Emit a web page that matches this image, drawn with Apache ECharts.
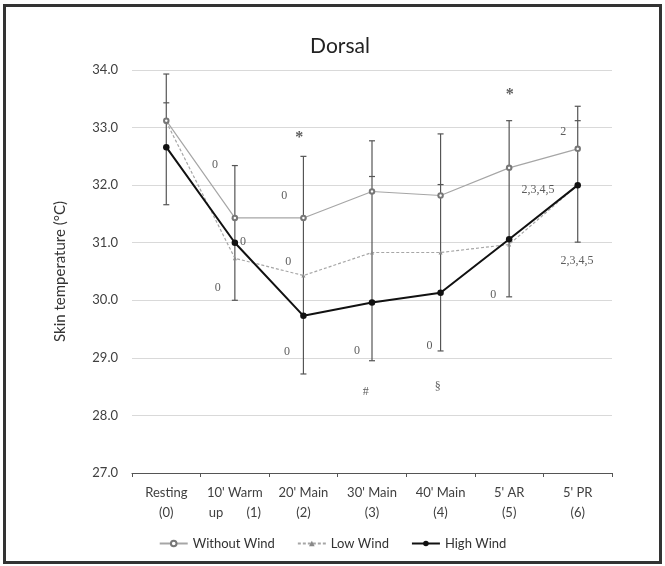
<!DOCTYPE html>
<html><head><meta charset="utf-8">
<script src="https://cdn.jsdelivr.net/npm/echarts@6/dist/echarts.min.js"></script>
<style>html,body{margin:0;padding:0;background:#fff}#c{width:665px;height:566px}</style>
</head><body><div id="c"></div>
<script>
// ---- data ----
const categories = ["Resting\n(0)", "10' Warm\nup       (1)", "20' Main\n(2)", "30' Main\n(3)", "40' Main\n(4)", "5' AR\n(5)", "5' PR\n(6)"];
const withoutWind   = [33.12, 31.43, 31.43, 31.89, 31.82, 32.30, 32.63];
const withoutWindSD = [0.81, 0.91, 1.07, 0.88, 1.07, 0.82, 0.74];
const lowWind       = [33.10, 30.73, 30.43, 30.83, 30.83, 30.97, 32.00];
const lowWindSD     = [0.33, 0.69, 1.00, 1.32, 1.18, 1.33, 1.12];
const highWind      = [32.66, 31.00, 29.73, 29.96, 30.13, 31.06, 32.00];
const highWindSD    = [1.00, 1.00, 1.01, 1.01, 1.01, 1.00, 0.99];
const yMin = 27, yMax = 34, yStep = 1;
// annotation marks: [category position, value, text]
const annotations = [
  [0.71, 32.36, "0"], [1.12, 31.02, "0"], [0.75, 30.21, "0"],
  [1.94, 32.82, "*"], [1.72, 31.82, "0"], [1.78, 30.66, "0"], [1.76, 29.10, "0"],
  [2.78, 29.12, "0"], [2.91, 28.41, "#"],
  [3.84, 29.20, "0"], [3.96, 28.49, "§"],
  [4.77, 30.09, "0"], [5.01, 33.57, "*"],
  [5.79, 32.93, "2"], [5.42, 31.92, "2,3,4,5"], [5.99, 30.68, "2,3,4,5"]
];

// ---- build ----
const errData = categories.map((c, i) => [
  i,
  withoutWind[i] + withoutWindSD[i],
  lowWind[i] + lowWindSD[i],
  highWind[i] - highWindSD[i]
]);

const chart = echarts.init(document.getElementById('c'));
const font = 'Lato, "Open Sans", sans-serif';
chart.setOption({
  animation: false,
  backgroundColor: '#fff',
  title: {
    text: 'Dorsal', left: 335, top: 31, textAlign: 'center',
    textStyle: { fontFamily: font, fontSize: 21, fontWeight: 'normal', color: '#222' }
  },
  legend: {
    bottom: 11, left: 'center',
    itemWidth: 28, itemHeight: 7, itemGap: 22,
    textStyle: { fontFamily: font, fontSize: 13, color: '#333' },
    data: ['Without Wind', 'Low Wind', 'High Wind']
  },
  grid: { left: 132, right: 53, top: 70, bottom: 93 },
  xAxis: [{
    type: 'category', data: categories, boundaryGap: true,
    axisLine: { lineStyle: { color: '#555', width: 1 } },
    axisTick: { show: true, length: 4, lineStyle: { color: '#555' } },
    axisLabel: { fontFamily: font, fontSize: 13, color: '#404040', lineHeight: 20, margin: 10, interval: 0 },
    splitLine: { show: false }
  }, {
    type: 'value', min: -0.5, max: 6.5, show: false
  }],
  yAxis: {
    type: 'value', min: yMin, max: yMax, interval: yStep,
    name: 'Skin temperature (°C)', nameLocation: 'middle', nameGap: 64,
    nameTextStyle: { fontFamily: font, fontSize: 15, color: '#333' },
    axisLine: { show: false }, axisTick: { show: false },
    axisLabel: { fontFamily: font, fontSize: 13, color: '#404040', margin: 14, formatter: v => v.toFixed(1) },
    splitLine: { lineStyle: { color: '#d9d9d9', width: 1 } }
  },
  graphic: [{
    type: 'rect', shape: { x: 4.5, y: 5.5, width: 656, height: 557 },
    style: { fill: 'none', stroke: '#333', lineWidth: 3 }, silent: true
  }],
  series: [
    {
      type: 'custom', name: 'err', z: 1,
      data: errData,
      encode: { x: 0, y: [1, 2, 3] },
      renderItem: function (params, api) {
        const i = api.value(0);
        const tops = [api.value(1), api.value(2)];
        const bottom = api.value(3);
        const topV = Math.max(tops[0], tops[1]);
        const p1 = api.coord([i, topV]);
        const p2 = api.coord([i, bottom]);
        const st = { stroke: '#555', lineWidth: 1.2 };
        const children = [{ type: 'line', shape: { x1: p1[0], y1: p1[1], x2: p2[0], y2: p2[1] }, style: st }];
        [tops[0], tops[1], bottom].forEach(v => {
          const p = api.coord([i, v]);
          children.push({ type: 'line', shape: { x1: p[0] - 3, y1: p[1], x2: p[0] + 3, y2: p[1] }, style: st });
        });
        return { type: 'group', children: children };
      }
    },
    {
      type: 'line', name: 'Without Wind', data: withoutWind, z: 3,
      symbol: 'emptyCircle', symbolSize: 4.5,
      lineStyle: { color: '#a6a6a6', width: 1.2 },
      itemStyle: { color: '#777', borderWidth: 1 }
    },
    {
      type: 'line', name: 'Low Wind', data: lowWind, z: 2,
      symbol: 'triangle', symbolSize: 4,
      lineStyle: { color: '#a6a6a6', width: 1.2, type: [3, 2] },
      itemStyle: { color: '#888' }
    },
    {
      type: 'line', name: 'High Wind', data: highWind, z: 4,
      symbol: 'circle', symbolSize: 6.5,
      lineStyle: { color: '#111', width: 2 },
      itemStyle: { color: '#111' }
    },
    {
      type: 'scatter', name: 'notes', xAxisIndex: 1, z: 5,
      data: annotations, symbolSize: 0, silent: true,
      label: {
        show: true, position: 'inside',
        formatter: p => p.value[2] === '*' ? '{s|*}' : p.value[2],
        fontFamily: '"Liberation Serif", "DejaVu Serif", serif', fontSize: 12, color: '#333',
        rich: { s: { fontFamily: '"Liberation Serif", serif', fontSize: 16, fontWeight: 'bold', color: '#333' } }
      }
    }
  ]
});
</script>
</body></html>
